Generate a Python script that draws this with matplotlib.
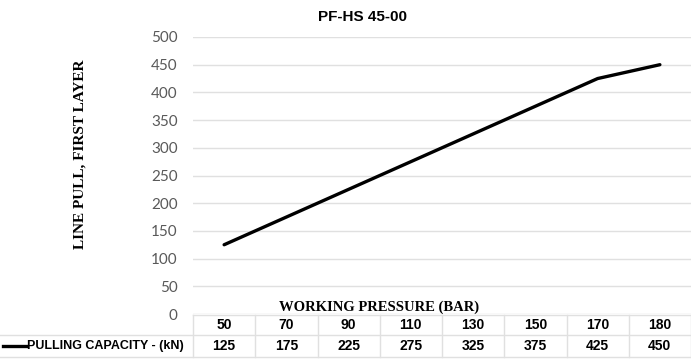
import matplotlib
matplotlib.use('Agg')
import matplotlib.pyplot as plt
import matplotlib.transforms as mtransforms
from matplotlib.lines import Line2D

# data
pressure = ['50', '70', '90', '110', '130', '150', '170', '180']
capacity = [125, 175, 225, 275, 325, 375, 425, 450]
series_name = 'PULLING CAPACITY - (kN)'
title = 'PF-HS 45-00'
x_title = 'WORKING PRESSURE (BAR)'
y_title = 'LINE PULL, FIRST LAYER'
y_ticks = list(range(0, 501, 50))

W, H = 691, 360
sans = ['Lato', 'DejaVu Sans']
bold_sans = ['Liberation Sans', 'DejaVu Sans']
serif = ['Liberation Serif', 'DejaVu Serif']
grid_col = '#e0e0e0'

fig = plt.figure(figsize=(W / 100, H / 100), dpi=100)
# plot area in pixels: x 193..691, y 37..314
ax = fig.add_axes([193 / W, 1 - 314 / H, (691 - 193) / W, (314 - 37) / H])

xs = list(range(len(pressure)))
ax.plot(xs, capacity, color='black', lw=2.4, solid_capstyle='round', zorder=3)

ax.set_xlim(-0.5, len(pressure) - 0.5)
ax.set_ylim(0, 500)
ax.set_yticks(y_ticks)
ax.set_xticks([])
ax.yaxis.grid(True, color=grid_col, lw=1)
ax.set_axisbelow(True)
for s in ax.spines.values():
    s.set_visible(False)
ax.tick_params(axis='y', length=0, pad=11, labelsize=11, labelcolor='#595959')
for lab in ax.get_yticklabels():
    lab.set_family(sans)

fig.text(363 / W, 1 - 17 / H, title, ha='center', va='center',
         fontsize=11, fontweight='bold', family=bold_sans)
fig.text(80 / W, 1 - 154 / H, y_title, rotation=90, ha='center', va='center',
         fontsize=11, fontweight='bold', family=serif)
fig.text(379 / W, 1 - 307 / H, x_title, ha='center', va='center',
         fontsize=10.5, fontweight='bold', family=serif)

# data table under the plot
tr = mtransforms.blended_transform_factory(ax.transData, fig.transFigure)
y_top, y_mid, y_bot = 1 - 315 / H, 1 - 335 / H, 1 - 357 / H
for i in range(len(pressure) + 1):
    ax.add_line(Line2D([i - 0.5, i - 0.5], [y_top, y_bot], transform=tr,
                       color=grid_col, lw=1, clip_on=False))
fig.add_artist(Line2D([193 / W, 1], [y_top, y_top], color=grid_col, lw=1))
fig.add_artist(Line2D([0, 1], [y_mid, y_mid], color=grid_col, lw=1))
fig.add_artist(Line2D([0, 1], [y_bot, y_bot], color=grid_col, lw=1))

for x, p, c in zip(xs, pressure, capacity):
    ax.text(x, (y_top + y_mid) / 2, p, transform=tr, ha='center', va='center',
            fontsize=10, fontweight='bold', family=bold_sans)
    ax.text(x, (y_mid + y_bot) / 2, str(c), transform=tr, ha='center', va='center',
            fontsize=10, fontweight='bold', family=bold_sans)

y_row = (y_mid + y_bot) / 2
fig.add_artist(Line2D([3 / W, 26 / W], [y_row, y_row], color='black', lw=2.4))
fig.text(27 / W, y_row, series_name, ha='left', va='center',
         fontsize=9, fontweight='bold', family=bold_sans)

fig.savefig('out.png', dpi=100)
